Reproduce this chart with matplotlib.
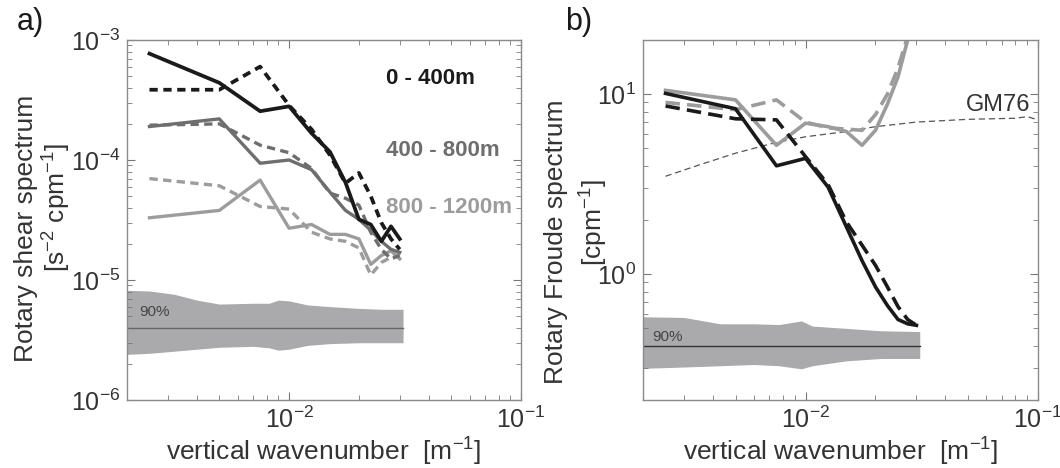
import numpy as np
import matplotlib.pyplot as plt
from matplotlib.ticker import LogLocator, NullFormatter

plt.rcParams['font.family'] = ['Liberation Sans', 'DejaVu Sans']
plt.rcParams['mathtext.default'] = 'regular'
plt.rcParams['axes.unicode_minus'] = False

# vertical wavenumber bins (cpm), 400 m segments
k = [0.0025, 0.005, 0.0075, 0.01, 0.0125, 0.015, 0.0175, 0.02, 0.0225, 0.025, 0.0275, 0.03]

# a) rotary shear spectra [s^-2 cpm^-1], solid = CW, dashed = CCW
shear_0_400 = [7.7e-4, 4.4e-4, 2.55e-4, 2.8e-4, 1.67e-4, 1.17e-4, 6.5e-5, 3.2e-5, 2.9e-5, 2.1e-5, 2.8e-5, 2.2e-5]
shear_0_400_d = [3.85e-4, 3.85e-4, 6.0e-4, 2.85e-4, 1.8e-4, 1.1e-4, 6.4e-5, 7.8e-5, 5.0e-5, 3.0e-5, 2.2e-5, 1.8e-5]
shear_400_800 = [1.9e-4, 2.2e-4, 9.4e-5, 1.0e-4, 8.3e-5, 5.4e-5, 3.8e-5, 3.2e-5, 2.6e-5, 2.1e-5, 1.8e-5, 1.7e-5]
shear_400_800_d = [1.95e-4, 2.0e-4, 1.33e-4, 1.15e-4, 8.5e-5, 5.3e-5, 4.8e-5, 4.2e-5, 2.5e-5, 1.8e-5, 1.5e-5, 1.6e-5]
shear_800_1200 = [3.3e-5, 3.8e-5, 6.8e-5, 2.7e-5, 2.9e-5, 2.4e-5, 2.4e-5, 2.2e-5, 1.35e-5, 1.6e-5, 1.75e-5, 1.5e-5]
shear_800_1200_d = [7.0e-5, 6.1e-5, 4.1e-5, 3.9e-5, 2.5e-5, 2.2e-5, 2.1e-5, 1.85e-5, 1.1e-5, 1.4e-5, 1.55e-5, 1.65e-5]

# a) 90% noise band
noise_k_a = [2e-3, 2.5e-3, 3.2e-3, 4e-3, 5e-3, 7e-3, 8.2e-3, 9e-3, 1e-2, 1.2e-2, 1.5e-2, 2e-2, 2.5e-2, 3.1e-2]
noise_hi_a = [8.2e-6, 8.1e-6, 7.6e-6, 6.8e-6, 6.3e-6, 6.4e-6, 6.4e-6, 6.8e-6, 6.7e-6, 6.2e-6, 6.0e-6, 5.8e-6, 5.7e-6, 5.7e-6]
noise_lo_a = [2.4e-6, 2.45e-6, 2.55e-6, 2.65e-6, 2.75e-6, 2.8e-6, 2.72e-6, 2.6e-6, 2.65e-6, 2.85e-6, 2.95e-6, 3.0e-6, 3.0e-6, 3.0e-6]
noise_level_a = 4.0e-6

# b) rotary Froude spectra [cpm^-1]
froude_black = [10.1, 8.3, 4.0, 4.4, 3.05, 1.83, 1.19, 0.85, 0.67, 0.56, 0.53, 0.52]
froude_black_d = [8.6, 7.3, 7.2, 4.5, 3.15, 1.95, 1.45, 1.12, 0.85, 0.66, 0.56, 0.52]
froude_gray = [10.5, 9.3, 5.2, 6.9, 6.6, 6.2, 5.2, 6.3, 8.8, 12.5, 20.0, 32.0]
froude_gray_d = [9.0, 8.2, 9.3, 7.0, 6.5, 6.4, 6.3, 7.7, 10.0, 14.0, 21.0, 32.0]

# GM76 reference
gm_k = [2.5e-3, 3.5e-3, 5e-3, 7.5e-3, 1e-2, 1.5e-2, 2e-2, 3e-2, 5e-2, 8e-2, 9e-2, 1e-1]
gm_spec = [3.5, 4.05, 4.7, 5.4, 5.8, 6.2, 6.6, 7.0, 7.25, 7.35, 7.5, 7.2]

# b) 90% noise band
noise_k_b = [2e-3, 3e-3, 4.3e-3, 6e-3, 7.7e-3, 9.6e-3, 1.07e-2, 1.5e-2, 2.1e-2, 3.1e-2]
noise_hi_b = [0.58, 0.575, 0.53, 0.53, 0.525, 0.55, 0.515, 0.50, 0.485, 0.48]
noise_lo_b = [0.30, 0.305, 0.31, 0.315, 0.31, 0.298, 0.31, 0.33, 0.34, 0.34]
noise_level_b = 0.40

black = '#1a1a1a'
mid = '#6e6e6e'
light = '#9c9c9c'
band = '#aaaaac'
txt = '#333333'

fig = plt.figure(figsize=(10.6, 4.68), dpi=100)
ax1 = fig.add_axes([127 / 1060, 68 / 468, 394 / 1060, 360 / 468])
ax2 = fig.add_axes([643 / 1060, 68 / 468, 395 / 1060, 360 / 468])


def style(ax):
    ax.set_xscale('log')
    ax.set_yscale('log')
    ax.set_xlim(2e-3, 1e-1)
    for s in ax.spines.values():
        s.set_color('#8a8a8a')
        s.set_linewidth(1.0)
    ax.tick_params(which='both', direction='in', top=True, right=True,
                   color='#777777', labelcolor=txt, labelsize=18, pad=5)
    ax.tick_params(which='major', length=6)
    ax.tick_params(which='minor', length=3.5)
    ax.xaxis.set_minor_locator(LogLocator(base=10, subs=np.arange(2, 10), numticks=20))
    ax.yaxis.set_minor_locator(LogLocator(base=10, subs=np.arange(2, 10), numticks=20))
    ax.xaxis.set_minor_formatter(NullFormatter())
    ax.yaxis.set_minor_formatter(NullFormatter())
    ax.set_xlabel('vertical wavenumber  [m$^{-1}$]', fontsize=19, color=txt, labelpad=2)


def ylabel_line(ax, x, y, s):
    ax.text(x, y, s, transform=ax.transAxes, rotation=90, ha='center',
            va='center', fontsize=19, color=txt)


# ---- panel a ----
style(ax1)
ax1.set_ylim(1e-6, 1e-3)
ax1.fill_between(noise_k_a, noise_lo_a, noise_hi_a, color=band, lw=0)
ax1.plot([noise_k_a[0], noise_k_a[-1]], [noise_level_a, noise_level_a], color='#666666', lw=1.0)
ax1.text(2.25e-3, 5.0e-6, '90%', fontsize=11, color='#444444')

ax1.plot(k, shear_800_1200_d, color=light, lw=2.4, dashes=(2.5, 1.6))
ax1.plot(k, shear_800_1200, color=light, lw=2.4)
ax1.plot(k, shear_400_800_d, color=mid, lw=2.4, dashes=(2.5, 1.6))
ax1.plot(k, shear_400_800, color=mid, lw=2.4)
ax1.plot(k, shear_0_400_d, color=black, lw=2.7, dashes=(2.2, 1.5))
ax1.plot(k, shear_0_400, color=black, lw=2.7)

ax1.text(0.657, 0.894, '0 - 400m', transform=ax1.transAxes, fontsize=16,
         fontweight='bold', color=black, va='center')
ax1.text(0.657, 0.694, '400 - 800m', transform=ax1.transAxes, fontsize=16,
         fontweight='bold', color=mid, va='center')
ax1.text(0.657, 0.536, '800 - 1200m', transform=ax1.transAxes, fontsize=16,
         fontweight='bold', color=light, va='center')
ylabel_line(ax1, -0.256, 0.478, 'Rotary shear spectrum')
ylabel_line(ax1, -0.178, 0.536, '[s$^{-2}$ cpm$^{-1}$]')

# ---- panel b ----
style(ax2)
ax2.set_ylim(0.2, 20)
ax2.fill_between(noise_k_b, noise_lo_b, noise_hi_b, color=band, lw=0)
ax2.plot([noise_k_b[0], noise_k_b[-1]], [noise_level_b, noise_level_b], color='#333333', lw=1.0)
ax2.text(2.2e-3, 0.425, '90%', fontsize=11, color='#444444')

ax2.plot(gm_k, gm_spec, color='#555555', lw=0.9, dashes=(5, 3))
ax2.text(0.049, 7.6, 'GM76', fontsize=17, color=txt, va='bottom')

ax2.plot(k, froude_gray_d, color=light, lw=2.6, dashes=(4, 2))
ax2.plot(k, froude_gray, color=light, lw=2.6)
ax2.plot(k, froude_black_d, color=black, lw=2.6, dashes=(4, 2))
ax2.plot(k, froude_black, color=black, lw=2.6)

ylabel_line(ax2, -0.22, 0.439, 'Rotary Froude spectrum')
ylabel_line(ax2, -0.124, 0.492, '[cpm$^{-1}$]')

fig.text(17 / 1060, 1 - 22 / 468, 'a)', fontsize=22, color=black, va='center')
fig.text(565 / 1060, 1 - 22 / 468, 'b)', fontsize=22, color=black, va='center')

fig.savefig('out.png', dpi=100)
